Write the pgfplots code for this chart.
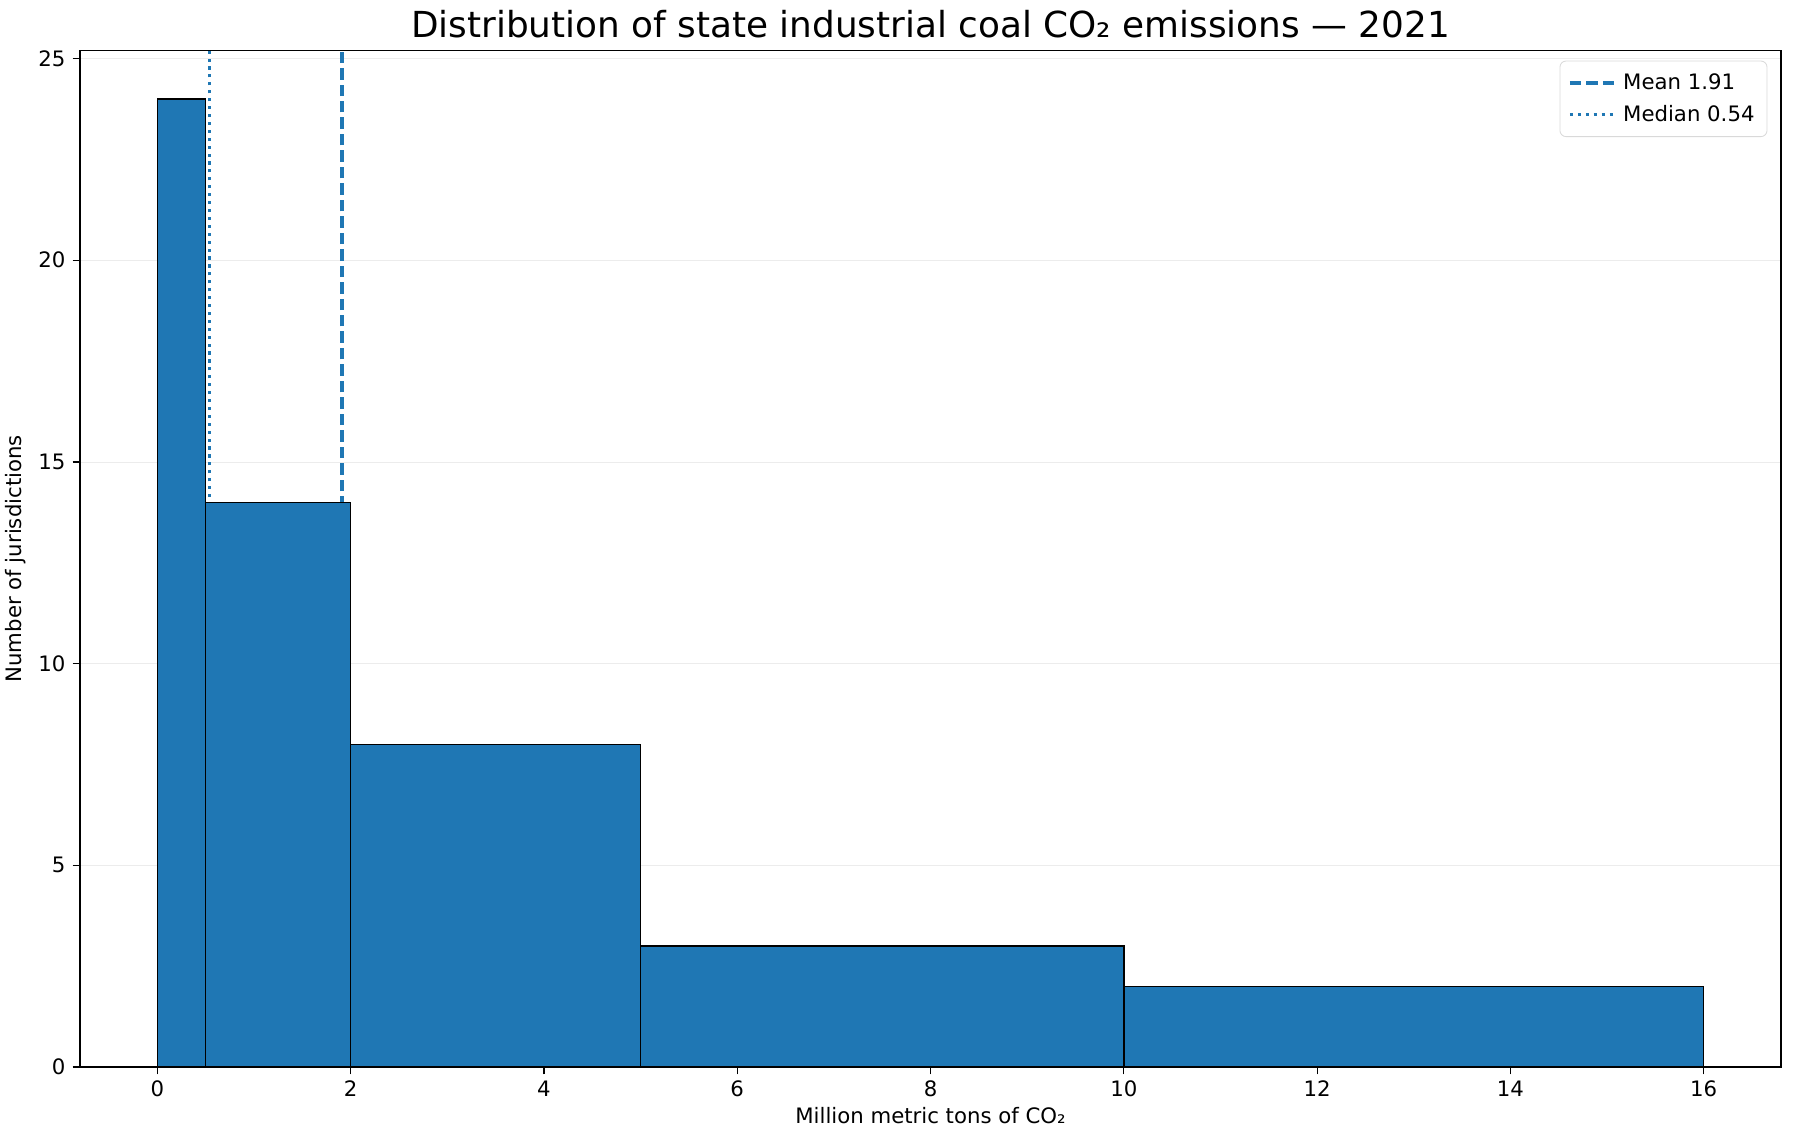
\documentclass[border=0pt]{standalone}
\usepackage{fontspec}
\setmainfont{DejaVu Sans}
\usepackage{pgfplots}
\pgfplotsset{compat=1.18}
\definecolor{mplblue}{HTML}{1F77B4}

\begin{document}
\begin{tikzpicture}
% page frame matching the reference margins
\useasboundingbox (-38.4pt,-35pt) rectangle (823.2pt,512.2pt);
\begin{axis}[
    at={(0,0)}, anchor=south west,
    scale only axis,
    width=816.5pt, height=488pt,
    xmin=-0.8, xmax=16.8,
    ymin=0, ymax=25.2,
    xtick={0,2,4,6,8,10,12,14,16},
    ytick={0,5,10,15,20,25},
    tick align=outside,
    major tick length=3.5pt,
    xtick pos=bottom, ytick pos=left,
    ymajorgrids=true,
    grid style={gray!15, line width=0.4pt},
    axis line style={line width=0.6pt},
    tick style={black, line width=0.6pt},
    /pgf/number format/assume math mode=true,
    ticklabel style={font=\fontsize{10.2}{12}\selectfont},
    xticklabel style={anchor=base, yshift=-10.5pt},
    label style={font=\fontsize{10.2}{12}\selectfont},
    xlabel style={at={(0.5,0)}, anchor=base, yshift=-26.9pt},
    ylabel style={at={(0,0.5)}, anchor=south, yshift=22.6pt},
    title style={font=\fontsize{17.2}{20}\selectfont, at={(0.5,1)}, anchor=base, yshift=0pt},
    title={Distribution of state industrial coal CO₂ emissions — 2021},
    xlabel={Million metric tons of CO₂},
    ylabel={Number of jurisdictions},
    legend style={
        at={(0.992,0.99)}, anchor=north east,
        draw=gray!30, rounded corners=3pt,
        font=\fontsize{10.2}{12}\selectfont,
        row sep=2pt, inner xsep=4pt, inner ysep=4pt,
    },
    legend cell align=left,
    legend image code/.code={\draw[#1] (0cm,0cm) -- (0.8cm,0cm);},
]
\addplot[mplblue, line width=1.6pt, dash pattern=on 5.5pt off 2.4pt] coordinates {(1.91,0) (1.91,25.2)};
\addlegendentry{Mean 1.91}
\addplot[mplblue, line width=1.6pt, dash pattern=on 1.5pt off 2.3pt] coordinates {(0.54,0) (0.54,25.2)};
\addlegendentry{Median 0.54}
\addplot[ybar interval, fill=mplblue, draw=black, line width=0.7pt, forget plot]
    coordinates {(0,24) (0.5,14) (2,8) (5,3) (10,2) (16,2)};
\end{axis}
\end{tikzpicture}
\end{document}
